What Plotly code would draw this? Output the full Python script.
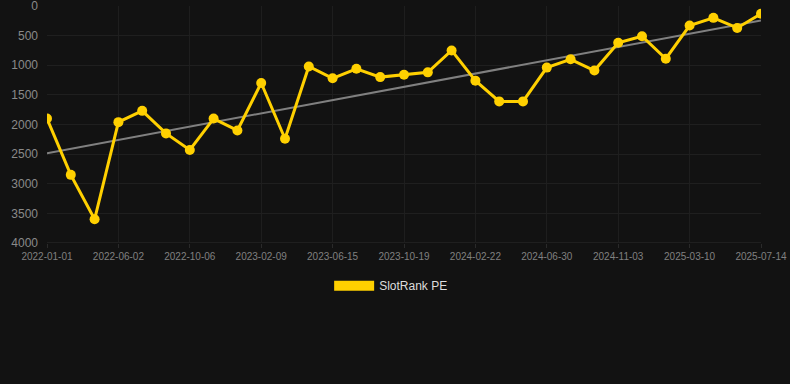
import numpy as np
import plotly.graph_objects as go

dates = [
    "2022-01-01", "2022-02-20", "2022-04-11", "2022-06-02", "2022-07-14", "2022-08-25",
    "2022-10-06", "2022-11-17", "2022-12-29", "2023-02-09", "2023-03-23", "2023-05-04",
    "2023-06-15", "2023-07-27", "2023-09-07", "2023-10-19", "2023-11-30", "2024-01-11",
    "2024-02-22", "2024-04-05", "2024-05-18", "2024-06-30", "2024-08-11", "2024-09-22",
    "2024-11-03", "2024-12-15", "2025-01-27", "2025-03-10", "2025-04-21", "2025-06-02",
    "2025-07-14",
]
rank = [
    1900, 2850, 3600, 1960, 1770, 2150, 2430, 1900, 2100, 1300, 2240, 1020,
    1220, 1060, 1200, 1160, 1120, 750, 1260, 1610, 1610, 1040, 900, 1090,
    620, 510, 890, 330, 200, 370, 130,
]
tick_labels = dates[::3]
y_ticks = [0, 500, 1000, 1500, 2000, 2500, 3000, 3500, 4000]
series_name = "SlotRank PE"

# linear trend (least squares) over the series
idx = np.arange(len(rank))
slope, intercept = np.polyfit(idx, rank, 1)
trend = slope * idx + intercept

GOLD = "#FFD000"
BG = "#121212"

fig = go.Figure()
fig.add_trace(go.Scatter(
    x=dates, y=trend, mode="lines",
    line=dict(color="#808080", width=2),
    showlegend=False, hoverinfo="skip",
))
fig.add_trace(go.Scatter(
    x=dates, y=rank, mode="lines+markers",
    line=dict(color=GOLD, width=3),
    marker=dict(color=GOLD, size=10),
    showlegend=False, name=series_name,
))
# legend entry
fig.add_trace(go.Scatter(
    x=[dates[0]], y=[None], mode="lines",
    line=dict(color=GOLD, width=11),
    name=series_name, showlegend=True,
))

fig.update_layout(
    width=790, height=384,
    paper_bgcolor=BG, plot_bgcolor=BG,
    margin=dict(l=47, r=29, t=6, b=141, autoexpand=False),
    font=dict(family="Liberation Sans, Arial, sans-serif"),
    showlegend=True,
    legend=dict(
        orientation="h", x=0.482, xanchor="center", y=-0.18, yanchor="middle",
        font=dict(color="#dddddd", size=12), bgcolor="rgba(0,0,0,0)",
        itemwidth=40,
    ),
    xaxis=dict(
        type="category", categoryorder="array", categoryarray=dates,
        range=[0, len(dates) - 1],
        tickmode="array", tickvals=tick_labels, ticktext=tick_labels,
        tickfont=dict(color="#808080", size=10),
        showgrid=True, gridcolor="#1e1e1e", gridwidth=1,
        ticks="outside", ticklen=4, tickcolor="#2a2a2a",
        showline=False, zeroline=False, tickangle=0,
        automargin=False, ticklabeloverflow="allow",
    ),
    yaxis=dict(
        range=[4000, 0], tickmode="array", tickvals=y_ticks,
        tickfont=dict(color="#8a8a8a", size=12),
        showgrid=True, gridcolor="#1f1f1f", gridwidth=1,
        zeroline=False, showline=False, ticks="", ticklabelstandoff=8,
        automargin=False, ticklabeloverflow="allow",
    ),
)
fig.add_hline(y=4000, line=dict(color="#2c2c2c", width=1), layer="below")

fig.write_html(
    "out.html",
    config={"displayModeBar": False},
    post_script="document.body.style.margin='0';document.body.style.background='#121212';",
)
